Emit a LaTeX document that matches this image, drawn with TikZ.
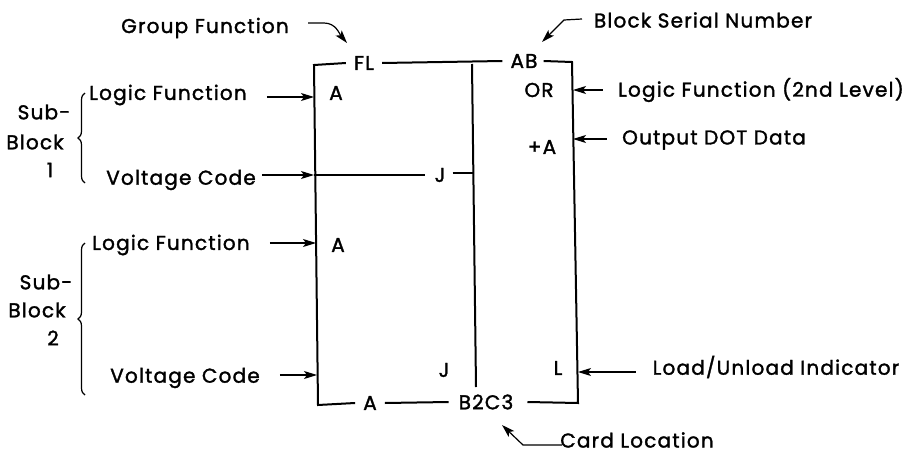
\documentclass[tikz,border=0pt]{standalone}
\usepackage{fontspec}
\setmainfont{Poppins}[LetterSpace=6,FakeBold=1.6]
\usetikzlibrary{arrows.meta,decorations.pathreplacing}
\begin{document}
\begin{tikzpicture}[x=1pt,y=-1pt,
  lbl/.style={inner sep=0pt,font=\fontsize{20}{22}\selectfont},
  box/.style={line width=2pt,line join=miter},
  arr/.style={line width=1.2pt,-{Stealth[length=13pt,width=8pt,inset=3pt]}},
  brc/.style={line width=1.2pt,decorate,decoration={brace,amplitude=7pt}}]
\path[use as bounding box] (0,0) rectangle (911,455);
% block labels
\node[lbl] (FL) at (364,63) {FL};
\node[lbl] (AB) at (524,61) {AB};
\node[lbl] (OR) at (539,90) {OR};
\node[lbl] (pA) at (542,147) {+A};
\node[lbl] (A1) at (336,93) {A};
\node[lbl] (J1) at (440,175) {J};
\node[lbl] (A2) at (338,245) {A};
\node[lbl] (J2) at (444,370) {J};
\node[lbl] (L) at (558,368) {L};
\node[lbl] (Ab) at (370,403) {A};
\node[lbl] (BC) at (486,402) {B2C3};
% box corners
\coordinate (TL) at (314,65);
\coordinate (BL) at (318,405);
\coordinate (TR) at (572,62);
\coordinate (BR) at (578,403);
\coordinate (IT) at (472,64);
\coordinate (IB) at (476,387);
\coordinate (V1) at (314,175);
\coordinate (J1r) at (473,173);
\draw[box] ([xshift=-8pt]FL.west) -- (TL) -- (BL) -- ([xshift=-8pt]Ab.west);
\draw[box] ([xshift=8pt]FL.east) -- ([xshift=-8pt]AB.west);
\draw[box] ([xshift=6pt]AB.east) -- (TR) -- (BR) -- ([xshift=14pt]BC.east);
\draw[box] ([xshift=8pt]Ab.east) -- ([xshift=-10pt]BC.west);
\draw[box] (IT) -- (IB);
\draw[box] (V1) -- ([xshift=-10pt]J1.west);
\draw[box] ([xshift=7pt]J1.east|-J1r) -- (J1r);
% left labels
\node[lbl] (lf1) at (168,95) {Logic Function};
\node[lbl] (vc1) at (181,180) {Voltage Code};
\node[lbl] (lf2) at (171,245) {Logic Function};
\node[lbl] (vc2) at (185,378) {Voltage Code};
\node[lbl] (s1a) at (44,112) {Sub-};
\node[lbl] (s1b) at (35,142) {Block};
\node[lbl] (s1c) at (50,170) {1};
\node[lbl] (s2a) at (46,282) {Sub-};
\node[lbl] (s2b) at (37,310) {Block};
\node[lbl] (s2c) at (53,338) {2};
\draw[brc] (85,183) -- (85,93);
\draw[brc] (85,395) -- (85,243);
% arrows left
\coordinate (lf1t) at (314,97);
\coordinate (vc1t) at (314,175);
\coordinate (lf2t) at (316,243);
\coordinate (vc2t) at (317,375);
\draw[arr] ([xshift=20pt]lf1.east|-lf1t) -- (lf1t);
\draw[arr] ([xshift=6pt]vc1.east|-vc1t) -- (vc1t);
\draw[arr] ([xshift=20pt]lf2.east|-lf2t) -- (lf2t);
\draw[arr] ([xshift=20pt]vc2.east|-vc2t) -- (vc2t);
% right labels
\node[lbl] (lfs) at (761,90) {Logic Function (2nd Level)};
\node[lbl] (odd) at (714,140) {Output DOT Data};
\node[lbl] (lui) at (776,367) {Load/Unload Indicator};
\node[lbl] (cl) at (637,440) {Card Location};
\node[lbl] (gf) at (205,28) {Group Function};
\node[lbl] (bsn) at (703,20) {Block Serial Number};
\coordinate (lfst) at (573,90);
\coordinate (oddt) at (573,139);
\coordinate (luit) at (578,372);
\draw[arr] ([xshift=-15pt]lfs.west|-lfst) -- (lfst);
\draw[arr] ([xshift=-15pt]odd.west|-oddt) -- (oddt);
\draw[arr] ([xshift=-17pt]lui.west|-luit) -- (luit);
% curved / bent arrows
\coordinate (gft) at (347,43);
\coordinate (bst) at (542,42);
\coordinate (clt) at (502,425);
\coordinate (gfs) at (308,23);
\coordinate (bss) at (582,19);
\coordinate (cls) at (562,445);
\draw[arr] (gfs) -- ++(16,0) to[out=0,in=130] (gft);
\draw[arr] (bss) -- ++(-18,1) -- (bst);
\draw[arr] (cls) -- ++(-39,0) -- (clt);
\end{tikzpicture}
\end{document}
